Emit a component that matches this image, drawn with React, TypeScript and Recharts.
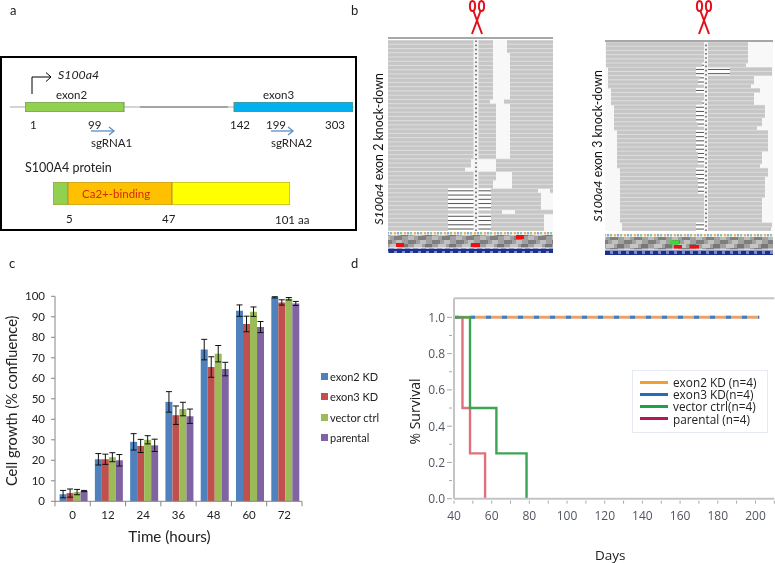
import React from "react";
import {
  Bar,
  BarChart,
  ErrorBar,
  Legend,
  Line,
  LineChart,
  ReferenceLine,
  XAxis,
  YAxis,
} from "recharts";

// panel c
const hours = ["0", "12", "24", "36", "48", "60", "72"];
const growthNames = ["exon2 KD", "exon3 KD", "vector ctrl", "parental"];
const growthColors = ["#4f81bd", "#c0504d", "#9bbb59", "#8064a2"];
const exon2Growth = [3.5, 20.5, 29, 48.5, 74, 93, 99.5];
const exon3Growth = [4, 20.5, 27, 42, 65.5, 86.5, 97];
const vectorGrowth = [4.5, 21.5, 30, 45, 72, 92.5, 98.8];
const parentalGrowth = [5, 20, 27.3, 41.5, 64.5, 85, 96.5];
const exon2Err = [1.8, 2.8, 4, 5, 5, 2.8, 0.3];
const exon3Err = [2, 2.5, 3.2, 4.5, 5, 3.8, 1.3];
const vectorErr = [1.3, 2.2, 2, 3.3, 4, 2.3, 0.6];
const parentalErr = [0.3, 2.8, 3, 3.5, 3.3, 2.7, 1];
const growthTicks = [0, 10, 20, 30, 40, 50, 60, 70, 80, 90, 100];

const growthData = hours.map((hour, i) => ({
  hour,
  exon2: exon2Growth[i],
  exon3: exon3Growth[i],
  vector: vectorGrowth[i],
  parental: parentalGrowth[i],
  exon2Err: exon2Err[i],
  exon3Err: exon3Err[i],
  vectorErr: vectorErr[i],
  parentalErr: parentalErr[i],
}));
const growthKeys = ["exon2", "exon3", "vector", "parental"];

// panel d
const survivalNames = ["exon2 KD (n=4)", "exon3 KD(n=4)", "vector ctrl(n=4)", "parental (n=4)"];
const survivalLegendColors = ["#f0a030", "#1f6fb8", "#1fa04a", "#b8145c"];
const exon2Survival = [
  { day: 40, p: 1 },
  { day: 202, p: 1 },
];
const exon3Survival = [
  { day: 40, p: 1 },
  { day: 202, p: 1 },
];
const vectorSurvival = [
  { day: 40, p: 1 },
  { day: 48.5, p: 0.5 },
  { day: 62.5, p: 0.25 },
  { day: 78.5, p: 0 },
];
const parentalSurvival = [
  { day: 40, p: 1 },
  { day: 44.5, p: 0.5 },
  { day: 48.5, p: 0.25 },
  { day: 56.5, p: 0 },
];
const dayTicks = [40, 50, 60, 70, 80, 90, 100, 110, 120, 130, 140, 150, 160, 170, 180, 190, 200, 210];
const survivalTicks = [0, 0.1, 0.2, 0.3, 0.4, 0.5, 0.6, 0.7, 0.8, 0.9, 1];

// panel b, read pile-ups: [readStart, delStart, delEnd, gapStart, gapEnd, readEnd]
const leftPile = [
  [0, 105, 105, 105, 119, 165],
  [0, 105, 105, 105, 119, 165],
  [0, 105, 105, 105, 119, 165],
  [0, 105, 105, 105, 122, 165],
  [0, 105, 105, 105, 122, 165],
  [0, 105, 105, 105, 122, 165],
  [0, 105, 105, 105, 122, 165],
  [0, 105, 105, 105, 122, 165],
  [0, 105, 105, 105, 122, 165],
  [0, 105, 105, 105, 122, 165],
  [0, 105, 105, 105, 122, 165],
  [0, 105, 105, 105, 122, 165],
  [0, 105, 105, 105, 122, 165],
  [0, 105, 105, 105, 122, 165],
  [0, 102, 102, 102, 116, 165],
  [0, 108, 108, 108, 122, 165],
  [0, 108, 108, 108, 122, 165],
  [0, 108, 108, 108, 122, 165],
  [0, 108, 108, 108, 122, 165],
  [0, 108, 108, 108, 122, 165],
  [0, 108, 108, 108, 122, 165],
  [0, 108, 108, 108, 122, 165],
  [0, 108, 108, 108, 122, 165],
  [0, 108, 108, 108, 122, 165],
  [0, 108, 108, 108, 122, 165],
  [0, 108, 108, 108, 122, 165],
  [0, 108, 108, 108, 122, 165],
  [0, 108, 108, 108, 122, 165],
  [0, 83, 83, 83, 108, 165],
  [0, 83, 83, 83, 108, 165],
  [0, 77, 77, 77, 108, 165],
  [0, 108, 108, 108, 124, 165],
  [0, 108, 108, 108, 124, 165],
  [0, 105, 105, 105, 124, 165],
  [0, 105, 105, 105, 124, 165],
  [0, 60, 103, 150, 162, 165],
  [0, 60, 103, 153, 165, 165],
  [0, 60, 103, 153, 165, 165],
  [0, 60, 103, 153, 165, 165],
  [0, 60, 103, 153, 165, 165],
  [0, 114, 114, 114, 127, 165],
  [0, 60, 103, 156, 165, 165],
  [0, 60, 103, 156, 165, 165],
  [0, 60, 103, 156, 165, 165],
  [0, 60, 103, 156, 165, 165],
];
const rightPile = [
  [1, 101, 101, 143, 143, 143],
  [1, 101, 101, 143, 143, 143],
  [1, 101, 101, 143, 143, 143],
  [1, 101, 101, 143, 143, 143],
  [1, 101, 101, 143, 143, 143],
  [1, 97, 101, 141, 141, 141],
  [3, 91, 125, 167, 167, 167],
  [3, 91, 125, 167, 167, 167],
  [3, 95, 101, 149, 149, 149],
  [3, 93, 101, 149, 149, 149],
  [3, 101, 101, 146, 146, 146],
  [6, 91, 101, 155, 155, 155],
  [6, 101, 101, 149, 149, 149],
  [6, 101, 101, 149, 149, 149],
  [6, 97, 101, 149, 149, 149],
  [9, 91, 101, 160, 160, 160],
  [9, 91, 101, 160, 160, 160],
  [9, 91, 101, 160, 160, 160],
  [9, 91, 101, 157, 157, 157],
  [9, 93, 101, 157, 157, 157],
  [9, 101, 101, 152, 152, 152],
  [12, 91, 101, 163, 163, 163],
  [12, 91, 101, 163, 163, 163],
  [12, 91, 101, 163, 163, 163],
  [12, 91, 101, 163, 163, 163],
  [12, 91, 101, 163, 163, 163],
  [12, 93, 101, 157, 157, 157],
  [12, 93, 101, 157, 157, 157],
  [12, 93, 101, 157, 157, 157],
  [12, 101, 101, 155, 155, 155],
  [15, 91, 101, 163, 163, 163],
  [15, 91, 101, 163, 163, 163],
  [15, 93, 101, 160, 160, 160],
  [15, 93, 101, 160, 160, 160],
  [15, 93, 101, 160, 160, 160],
  [15, 93, 101, 160, 160, 160],
  [15, 101, 101, 160, 160, 160],
  [15, 101, 101, 157, 157, 157],
  [15, 101, 101, 157, 157, 157],
  [15, 101, 101, 157, 157, 157],
  [15, 101, 101, 157, 157, 157],
  [15, 101, 101, 157, 157, 157],
  [15, 101, 101, 157, 157, 157],
  [17, 91, 101, 167, 167, 167],
  [17, 91, 101, 166, 166, 166],
];

// panel a, drawn lengths of the gene and protein tracks
const geneTrackKeys = ["exon2", "intron", "exon3"];
const geneTrackLengths = [99, 110, 119];
const geneTrackFills = ["#92d050", "transparent", "#00b0f0"];
const proteinTrackKeys = ["head", "calcium", "tail"];
const proteinTrackLengths = [15, 104, 118];
const proteinTrackFills = ["#92d050", "#ffc000", "#ffff00"];

const SANS = "Lato, sans-serif";
const SEGOE = "'Open Sans', sans-serif";

function pileTable(rows: number[][]) {
  return rows.map(([start, delStart, delEnd, gapStart, gapEnd, end], i) => ({
    row: i,
    lead: start,
    readA: delStart - start,
    del: delEnd - delStart,
    readB: gapStart - delEnd,
    gap: gapEnd - gapStart,
    readC: end - gapEnd,
  }));
}

function DelShape(props: any) {
  const { x, y, width, height } = props;
  if (!width || width <= 0) return <g />;
  return (
    <g>
      <rect x={x} y={y - 0.5} width={width} height={height + 1} fill="#fdfdfd" />
      <line x1={x} x2={x + width} y1={y + height / 2} y2={y + height / 2} stroke="#555" strokeWidth={1} />
    </g>
  );
}

function ReadShape(props: any) {
  const { x, y, width, height } = props;
  if (!width || width <= 0) return <g />;
  return (
    <g>
      <rect x={x} y={y - 0.4} width={width} height={height + 0.8} fill="#dcdcdc" />
      <rect x={x} y={y + 0.3} width={width} height={height - 0.8} fill="#c6c6c6" />
    </g>
  );
}

function Pile({ rows, left, top, width, height, domain, cut, cutWidth }: any) {
  return (
    <div style={{ position: "absolute", left, top, width, height, background: "#f8f8f8" }}>
      <BarChart
        width={width}
        height={height}
        layout="vertical"
        data={pileTable(rows)}
        margin={{ top: 0, right: 0, bottom: 0, left: 0 }}
        barCategoryGap="6%"
      >
        <XAxis type="number" domain={[0, domain]} hide />
        <YAxis type="category" dataKey="row" hide />
        <Bar dataKey="lead" stackId="p" fill="transparent" isAnimationActive={false} />
        <Bar dataKey="readA" stackId="p" shape={ReadShape} isAnimationActive={false} />
        <Bar dataKey="del" stackId="p" shape={DelShape} isAnimationActive={false} />
        <Bar dataKey="readB" stackId="p" shape={ReadShape} isAnimationActive={false} />
        <Bar dataKey="gap" stackId="p" fill="transparent" isAnimationActive={false} />
        <Bar dataKey="readC" stackId="p" shape={ReadShape} isAnimationActive={false} />
        <ReferenceLine x={cut} stroke="#f4f4f4" strokeWidth={cutWidth} />
        <ReferenceLine x={cut} stroke="#333333" strokeWidth={1.2} strokeDasharray="1.6 2.6" />
      </BarChart>
    </div>
  );
}

function TrackChart({ left, top, width, height, keys, lengths, fills, edge }: any) {
  const row: Record<string, number | string> = { name: "track" };
  keys.forEach((k: string, i: number) => (row[k] = lengths[i]));
  return (
    <div style={{ position: "absolute", left, top }}>
      <BarChart
        width={width}
        height={height}
        layout="vertical"
        data={[row]}
        margin={{ top: 0, right: 0, bottom: 0, left: 0 }}
        barCategoryGap={0}
      >
        <XAxis type="number" domain={[0, "dataMax"]} hide />
        <YAxis type="category" dataKey="name" hide />
        {keys.map((k: string, i: number) => (
          <Bar
            key={k}
            dataKey={k}
            stackId="t"
            fill={fills[i]}
            stroke={fills[i] === "transparent" ? "none" : edge}
            isAnimationActive={false}
          />
        ))}
      </BarChart>
    </div>
  );
}

function Scissors({ x }: { x: number }) {
  return (
    <g fill="none" stroke="#e3101c" strokeWidth={2}>
      <ellipse cx={x - 4.5} cy={6} rx={2.6} ry={5} />
      <ellipse cx={x + 4.5} cy={6} rx={2.6} ry={5} />
      <line x1={x - 3.5} y1={11} x2={x + 5} y2={34} />
      <line x1={x + 3.5} y1={11} x2={x - 5} y2={34} />
    </g>
  );
}

function ReadStrip({ x, y, width, marks }: any) {
  return (
    <g>
      <rect x={x} y={y} width={width} height={2.5} fill="url(#bases)" />
      <rect x={x} y={y + 3} width={width} height={12.5} fill="url(#texture)" />
      <rect x={x} y={y + 16.5} width={width} height={4.5} fill="url(#codons)" />
      {marks.map((m: any, i: number) => (
        <rect key={i} x={m[0]} y={m[1]} width={m[2]} height={m[3]} fill={m[4]} />
      ))}
    </g>
  );
}

function BlueArrow({ x1, x2, y }: any) {
  return (
    <g fill="none" stroke="#5b8fc9" strokeWidth={1.3}>
      <line x1={x1} x2={x2} y1={y} y2={y} />
      <polyline points={`${x2 - 5},${y - 4} ${x2},${y} ${x2 - 5},${y + 4}`} />
    </g>
  );
}

function Diagram() {
  const t = { fontFamily: SANS, fontSize: 11.5, fill: "#222" };
  return (
    <svg width={775} height={563} style={{ position: "absolute", left: 0, top: 0 }}>
      <defs>
        <pattern id="bases" width="10" height="3" patternUnits="userSpaceOnUse">
          <rect width="10" height="3" fill="#f4f0e0" />
          <rect x="0" width="2" height="3" fill="#8fc98f" />
          <rect x="4" width="2" height="3" fill="#e8b070" />
          <rect x="7" width="2" height="3" fill="#8fa8dc" />
        </pattern>
        <pattern id="texture" width="24" height="12" patternUnits="userSpaceOnUse">
          <rect width="24" height="12" fill="#a0a0a0" />
          <rect x="0" y="0" width="8" height="4" fill="#7e7e7e" />
          <rect x="12" y="0" width="6" height="4" fill="#c0c0c0" />
          <rect x="6" y="4" width="8" height="4" fill="#c6c6c6" />
          <rect x="17" y="4" width="7" height="4" fill="#777" />
          <rect x="0" y="8" width="6" height="4" fill="#bcbcbc" />
          <rect x="10" y="8" width="8" height="4" fill="#808080" />
        </pattern>
        <pattern id="codons" width="8" height="5" patternUnits="userSpaceOnUse">
          <rect width="8" height="5" fill="#1d2f8c" />
          <rect x="2" y="1" width="3" height="3" fill="#7f8cc4" />
        </pattern>
      </defs>

      <text x={10} y={15} {...t} fontSize={13}>a</text>
      <text x={351} y={15} {...t} fontSize={13}>b</text>
      <text x={9} y={268} {...t} fontSize={13}>c</text>
      <text x={351} y={268} {...t} fontSize={13}>d</text>

      <rect x={1} y={57} width={355} height={173} fill="none" stroke="#000" strokeWidth={2} />
      <polyline points="32,94 32,77 51,77" fill="none" stroke="#000" strokeWidth={1} />
      <polyline points="46,72.5 51,77 46,81.5" fill="none" stroke="#000" strokeWidth={1} />
      <text x={58} y={79} {...t} fontSize={12.3} fontStyle="italic">S100a4</text>
      <text x={56} y={99} {...t}>exon2</text>
      <text x={263} y={99} {...t}>exon3</text>
      <line x1={10} x2={354} y1={107} y2={107} stroke="#aaa" strokeWidth={1.2} />
      <line x1={140} x2={228} y1={107} y2={107} stroke="#777" strokeWidth={1.2} />
      <text x={30} y={129} {...t}>1</text>
      <text x={88} y={129} {...t}>99</text>
      <text x={230} y={129} {...t}>142</text>
      <text x={266} y={129} {...t}>199</text>
      <text x={325} y={129} {...t}>303</text>
      <BlueArrow x1={91} x2={114} y={131} />
      <BlueArrow x1={271} x2={293} y={131} />
      <text x={91} y={147} {...t}>sgRNA1</text>
      <text x={271} y={147} {...t}>sgRNA2</text>
      <text x={25} y={172} {...t} fontSize={12.5}>S100A4 protein</text>
      <text x={66} y={223} {...t}>5</text>
      <text x={162} y={223} {...t}>47</text>
      <text x={275} y={224} {...t}>101 aa</text>

      <line x1={388} x2={553} y1={38} y2={38} stroke="#8a8a8a" strokeWidth={1.5} />
      <line x1={605} x2={773} y1={41} y2={41} stroke="#8a8a8a" strokeWidth={1.5} />
      <Scissors x={477} />
      <Scissors x={704} />
      <ReadStrip
        x={388}
        y={232}
        width={165}
        marks={[
          [396, 243, 8, 4, "#f01010"],
          [471, 243, 9, 4, "#f01010"],
          [516, 235, 8, 4, "#f01010"],
        ]}
      />
      <ReadStrip
        x={605}
        y={234}
        width={168}
        marks={[
          [670, 240.5, 9, 4, "#30e030"],
          [674, 245, 8, 3.5, "#f01010"],
          [690, 245, 9, 3.5, "#f01010"],
        ]}
      />
      <text transform="translate(383,149) rotate(-90)" textAnchor="middle" fontFamily={SANS} fontSize={12.4} fill="#111">
        <tspan fontStyle="italic">S100a4</tspan> exon 2 knock-down
      </text>
      <text transform="translate(602,146) rotate(-90)" textAnchor="middle" fontFamily={SANS} fontSize={12.4} fill="#111">
        <tspan fontStyle="italic">S100a4</tspan> exon 3 knock-down
      </text>
    </svg>
  );
}

function GrowthXTick({ x, y, payload, index }: any) {
  const halfBand = 17.65;
  return (
    <g>
      <line x1={x - halfBand} x2={x - halfBand} y1={y - 8} y2={y - 3} stroke="#868686" />
      {index === hours.length - 1 && (
        <line x1={x + halfBand} x2={x + halfBand} y1={y - 8} y2={y - 3} stroke="#868686" />
      )}
      <text x={x} y={y + 10} textAnchor="middle" fontFamily={SANS} fontSize={11.5} fill="#222">
        {payload.value}
      </text>
    </g>
  );
}

function GrowthLegend() {
  return (
    <div style={{ fontFamily: SANS, fontSize: 11, color: "#222" }}>
      {growthNames.map((name, i) => (
        <div key={name} style={{ display: "flex", alignItems: "center", height: 20.5 }}>
          <span style={{ width: 7, height: 7, background: growthColors[i], marginRight: 2 }} />
          {name}
        </div>
      ))}
    </div>
  );
}

function GrowthChart() {
  return (
    <div style={{ position: "absolute", left: 0, top: 280 }}>
      <BarChart
        width={385}
        height={283}
        data={growthData}
        margin={{ top: 16.3, right: 83, bottom: 31.7, left: 0 }}
        barCategoryGap="13%"
        barGap={0}
      >
        <XAxis
          dataKey="hour"
          height={30}
          axisLine={{ stroke: "#868686" }}
          tickLine={false}
          tick={GrowthXTick}
          interval={0}
          label={{
            value: "Time (hours)",
            position: "insideBottom",
            offset: -11,
            dx: -9,
            style: { fontFamily: SANS, fontSize: 15.2, fill: "#222" },
          }}
        />
        <YAxis
          width={55}
          domain={[0, 100]}
          ticks={growthTicks}
          interval={0}
          axisLine={{ stroke: "#868686" }}
          tickLine={{ stroke: "#868686" }}
          tickSize={4}
          tickMargin={6}
          tick={{ fontFamily: SANS, fontSize: 11.5, fill: "#222" }}
          label={{
            value: "Cell growth (% confluence)",
            angle: -90,
            position: "insideLeft",
            offset: 0,
            dx: 12,
            dy: 2,
            style: { textAnchor: "middle", fontFamily: SANS, fontSize: 14.6, fill: "#222" },
          }}
        />
        {growthKeys.map((key, i) => (
          <Bar key={key} dataKey={key} name={growthNames[i]} fill={growthColors[i]} isAnimationActive={false}>
            <ErrorBar dataKey={`${key}Err`} width={3} stroke="#111" strokeWidth={1} />
          </Bar>
        ))}
        <Legend
          layout="vertical"
          align="center"
          verticalAlign="middle"
          content={GrowthLegend}
          wrapperStyle={{ position: "absolute", left: 321, top: 86, width: 70, height: 84 }}
        />
      </BarChart>
    </div>
  );
}

function DayTick({ x, y, payload }: any) {
  const major = payload.value % 20 === 0 && payload.value <= 200;
  return (
    <g>
      <line x1={x} x2={x} y1={y - 6} y2={y - 3} stroke="#a8a8a8" />
      {major && (
        <text x={x} y={y + 13} textAnchor="middle" fontFamily={SEGOE} fontSize={12} fill="#50555f">
          {payload.value}
        </text>
      )}
    </g>
  );
}

function SurvivalTick({ x, y, payload }: any) {
  const major = Math.round(payload.value * 10) % 2 === 0;
  return (
    <g>
      <line x1={x + (major ? 1 : 3)} x2={x + 6} y1={y} y2={y} stroke="#a8a8a8" />
      {major && (
        <text x={x - 1} y={y + 4.5} textAnchor="end" fontFamily={SEGOE} fontSize={12} fill="#50555f">
          {payload.value.toFixed(1)}
        </text>
      )}
    </g>
  );
}

function SurvivalLegend() {
  return (
    <div
      style={{
        boxSizing: "border-box",
        width: 136,
        height: 63,
        padding: "5px 0 0 7px",
        background: "#fff",
        border: "1px solid #e6eaf2",
        fontFamily: SEGOE,
        fontSize: 11.8,
        lineHeight: "12.2px",
        color: "#222",
      }}
    >
      {survivalNames.map((name, i) => (
        <div key={name} style={{ display: "flex", alignItems: "center", height: 12.2 }}>
          <span style={{ width: 28, height: 3, background: survivalLegendColors[i], marginRight: 5 }} />
          {name}
        </div>
      ))}
    </div>
  );
}

function SurvivalChart() {
  return (
    <div style={{ position: "absolute", left: 395, top: 285 }}>
      <LineChart width={380} height={278} margin={{ top: 13.3, right: 0.7, bottom: 34.3, left: 0 }}>
        <XAxis
          type="number"
          dataKey="day"
          height={30}
          domain={[40, 210]}
          ticks={dayTicks}
          interval={0}
          allowDuplicatedCategory={false}
          axisLine={{ stroke: "#c4c4c4", strokeWidth: 2 }}
          tickLine={false}
          tick={DayTick}
          label={{
            value: "Days",
            position: "insideBottom",
            offset: -31,
            dx: -4,
            style: { fontFamily: SEGOE, fontSize: 13.5, fill: "#222" },
          }}
        />
        <YAxis
          type="number"
          dataKey="p"
          width={59}
          domain={[0, 1.105]}
          ticks={survivalTicks}
          interval={0}
          axisLine={{ stroke: "#c4c4c4", strokeWidth: 2 }}
          tickLine={false}
          tick={SurvivalTick}
          label={{
            value: "% Survival",
            angle: -90,
            position: "insideLeft",
            offset: 0,
            dx: 20,
            dy: 13,
            style: { textAnchor: "middle", fontFamily: SEGOE, fontSize: 14, fill: "#222" },
          }}
        />
        <ReferenceLine y={1.105} stroke="#c4c4c4" strokeWidth={2} />
        <Line data={exon2Survival} dataKey="p" name={survivalNames[0]} type="stepAfter" stroke="#e6a36c" strokeWidth={3} dot={false} isAnimationActive={false} />
        <Line data={exon3Survival} dataKey="p" name={survivalNames[1]} type="stepAfter" stroke="#3b7fc4" strokeWidth={3} strokeDasharray="5 11" dot={false} isAnimationActive={false} />
        <Line data={parentalSurvival} dataKey="p" name={survivalNames[3]} type="stepAfter" stroke="#e0707c" strokeWidth={2.4} dot={false} isAnimationActive={false} />
        <Line data={vectorSurvival} dataKey="p" name={survivalNames[2]} type="stepAfter" stroke="#3aa655" strokeWidth={2.4} dot={false} isAnimationActive={false} />
        <Legend
          layout="vertical"
          align="center"
          verticalAlign="middle"
          content={SurvivalLegend}
          wrapperStyle={{ position: "absolute", left: 237, top: 85, width: 136, height: 63 }}
        />
      </LineChart>
    </div>
  );
}

export default function App() {
  return (
    <div style={{ position: "absolute", left: 0, top: 0, width: 775, height: 563, background: "#fff", overflow: "hidden", filter: "blur(0.4px)" }}>
      <Diagram />
      <TrackChart left={25} top={102} width={328} height={10} keys={geneTrackKeys} lengths={geneTrackLengths} fills={geneTrackFills} edge="#6f8f60" />
      <TrackChart left={53} top={182} width={237} height={23} keys={proteinTrackKeys} lengths={proteinTrackLengths} fills={proteinTrackFills} edge="#a8963a" />
      <div style={{ position: "absolute", left: 82, top: 187, fontFamily: SANS, fontSize: 11.5, color: "#d42a0a" }}>Ca2+-binding</div>
      <Pile rows={leftPile} left={388} top={40} width={165} height={191} domain={165} cut={88} cutWidth={5} />
      <Pile rows={rightPile} left={605} top={42} width={168} height={189} domain={168} cut={101} cutWidth={4} />
      <GrowthChart />
      <SurvivalChart />
    </div>
  );
}
